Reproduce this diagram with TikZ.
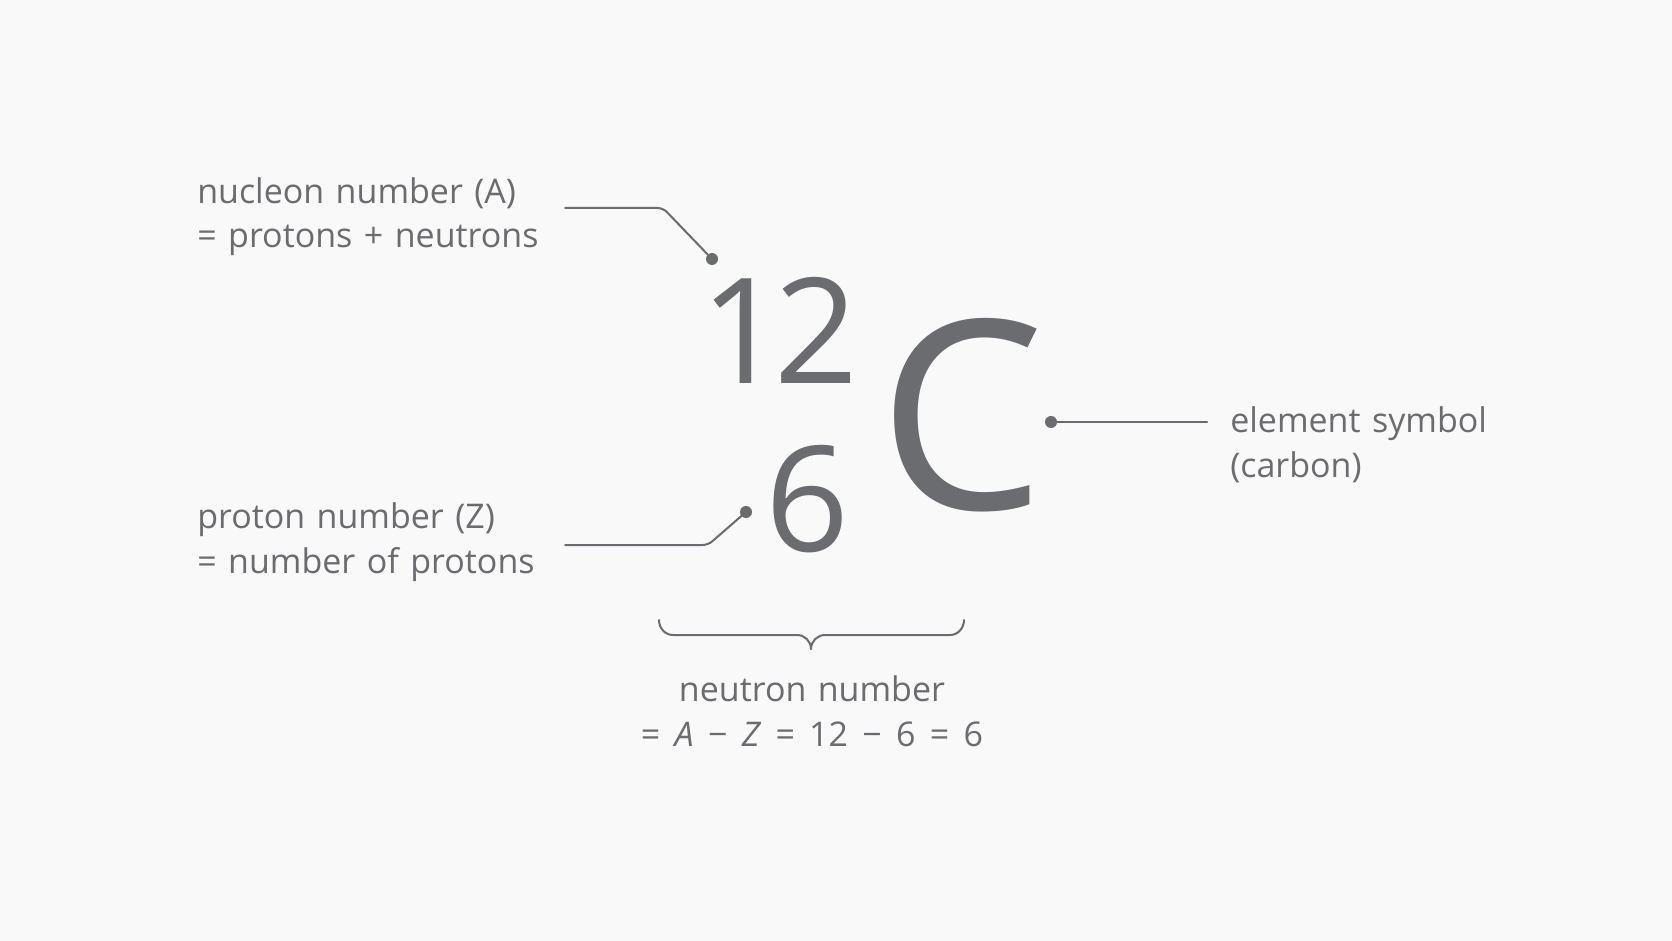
\documentclass[tikz,border=0pt]{standalone}
\usepackage{fontspec}
\setmainfont{Open Sans}[WordSpace=1.3]
\definecolor{ink}{HTML}{6B6C70}
\definecolor{softbg}{HTML}{F9F9F9}
\usetikzlibrary{
  arrows.meta,
  positioning,
  calc
}
\tikzset{
  every picture/.style={line cap=round, line join=round},
  every node/.style={text=ink, inner sep=0pt},
  annot/.style={font=\fontsize{25.5}{33.5}\selectfont, align=left},
  bignum/.style={font=\fontsize{110}{110}\selectfont},
  bigsym/.style={font=\fontsize{198}{198}\selectfont},
  leader/.style={draw=ink, line width=1.5pt, rounded corners=4pt},
  pin/.style={circle, fill=ink, minimum size=9pt, inner sep=0pt},
  brace/.style={draw=ink, line width=1.5pt}
}

\begin{document}
\begin{tikzpicture}[x=0.75pt, y=-0.75pt]
  % Canvas
  \fill[softbg] (0,0) rectangle (1672,941);
  \useasboundingbox (0,0) rectangle (1672,941);

  % Nuclide symbol
  \node[bignum, anchor=base east] (A) at (858,384) {1\kern-8pt 2};
  \node[bignum, anchor=base east] (Z) at (850,551) {6};
  \node[bigsym, anchor=base west] (sym) at (878,509) {C};

  % Pins on the symbol
  \node[pin] (pA) at (712,259) {};
  \node[pin] (pZ) at (746,512) {};
  \node[pin] (pC) at (1051,422) {};

  % Labels (base = last line)
  \node[annot, anchor=base west] (nucleon) at (197,248) {nucleon number (A)\\= protons + neutrons};
  \node[annot, anchor=base west] (proton) at (197,573) {proton number (Z)\\= number of protons};
  \node[annot, anchor=base west] (element) at (1230,477) {element symbol\\(carbon)};
  \node[annot, align=center, anchor=base] (neutron) at (812,746)
    {neutron number\\{\spaceskip=0.42em\relax = \textit{A} − \textit{Z} = 12 − 6 = 6}};

  % Leaders
  \coordinate (lA) at (565,208);
  \coordinate (lZ) at (565,545);
  \coordinate (lC) at (1207,422);
  \draw[leader] (lA) -- ++(98,0) -- (pA.center);
  \draw[leader] (lZ) -- ++(143,0) -- (pZ.center);
  \draw[leader] (pC.center) -- (lC);

  % Brace under the numbers
  \draw[brace] (659,620) to[out=-90, in=180] (673,635) -- (797,635) to[out=0, in=90] (811,649);
  \draw[brace] (964,620) to[out=-90, in=0] (950,635) -- (825,635) to[out=180, in=90] (811,649);
\end{tikzpicture}
\end{document}
